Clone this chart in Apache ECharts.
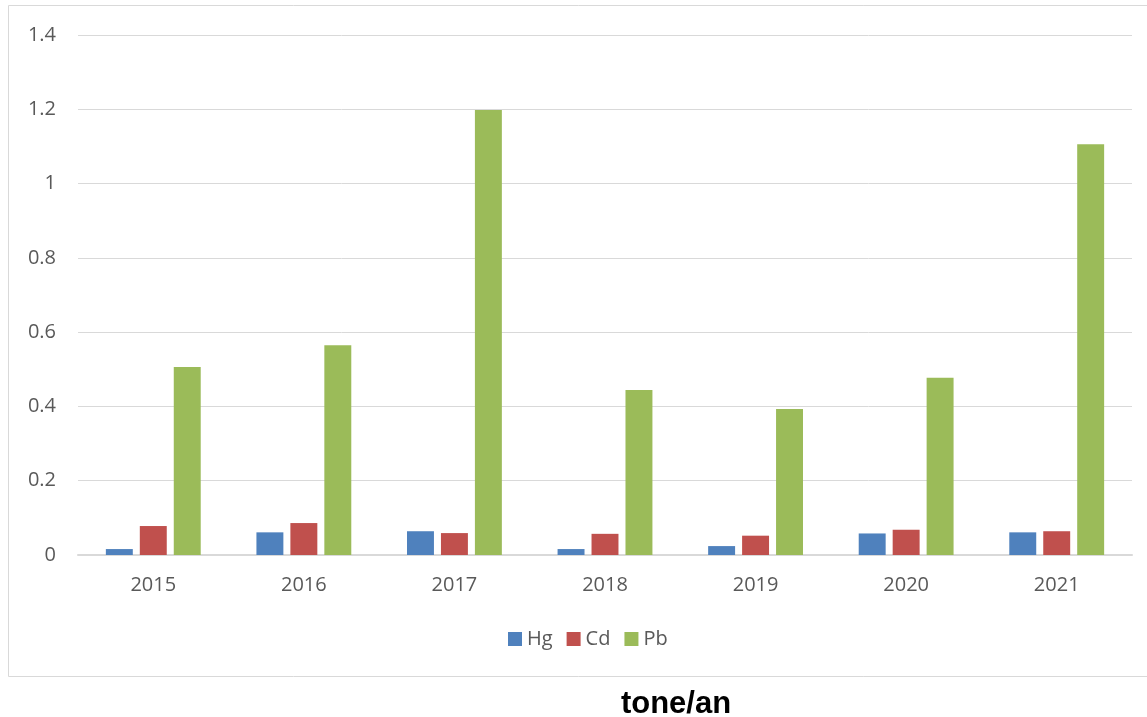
<!DOCTYPE html>
<html>
<head>
<meta charset="utf-8">
<script src="https://cdn.jsdelivr.net/npm/echarts@6/dist/echarts.min.js"></script>
<style>
  html, body { margin: 0; padding: 0; background: #fff; }
  #chart { width: 1147px; height: 717px; }
</style>
</head>
<body>
<div id="chart"></div>
<script>
const years = ['2015', '2016', '2017', '2018', '2019', '2020', '2021'];
const hg = [0.016, 0.061, 0.064, 0.016, 0.024, 0.058, 0.061];
const cd = [0.078, 0.086, 0.059, 0.057, 0.052, 0.068, 0.064];
const pb = [0.506, 0.565, 1.198, 0.444, 0.393, 0.477, 1.106];

const font = '"Open Sans", Lato, sans-serif';

const chart = echarts.init(document.getElementById('chart'));
chart.setOption({
  animation: false,
  title: {
    text: 'tone/an',
    left: 671,
    top: 684,
    textAlign: 'center',
    textStyle: { fontFamily: 'Arial, "Liberation Sans", sans-serif', fontSize: 31, fontWeight: 'bold', color: '#000' }
  },
  graphic: [{
    type: 'rect',
    shape: { x: 8.5, y: 5.5, width: 1150, height: 671 },
    style: { fill: 'none', stroke: '#d9d9d9', lineWidth: 1 },
    silent: true
  }],
  legend: {
    left: 503,
    top: 624,
    itemWidth: 14,
    itemHeight: 14,
    itemGap: 14,
    icon: 'rect',
    textStyle: { fontFamily: font, fontSize: 20, color: '#595959' },
    data: ['Hg', 'Cd', 'Pb']
  },
  grid: { left: 78, right: 15, top: 35, bottom: 162 },
  xAxis: {
    type: 'category',
    data: years,
    axisTick: { show: false },
    axisLine: { lineStyle: { color: '#d9d9d9', width: 2 } },
    axisLabel: { fontFamily: font, fontSize: 20, color: '#595959', margin: 20 }
  },
  yAxis: {
    type: 'value',
    min: 0,
    max: 1.4,
    interval: 0.2,
    axisLine: { show: false },
    axisTick: { show: false },
    splitLine: { lineStyle: { color: '#d9d9d9', width: 1 } },
    axisLabel: { fontFamily: font, fontSize: 20, color: '#595959', margin: 22 }
  },
  series: [
    { name: 'Hg', type: 'bar', data: hg, itemStyle: { color: '#4f81bd' }, barGap: '26%', barCategoryGap: '37%' },
    { name: 'Cd', type: 'bar', data: cd, itemStyle: { color: '#c0504d' } },
    { name: 'Pb', type: 'bar', data: pb, itemStyle: { color: '#9bbb59' } }
  ]
});
</script>
</body>
</html>
